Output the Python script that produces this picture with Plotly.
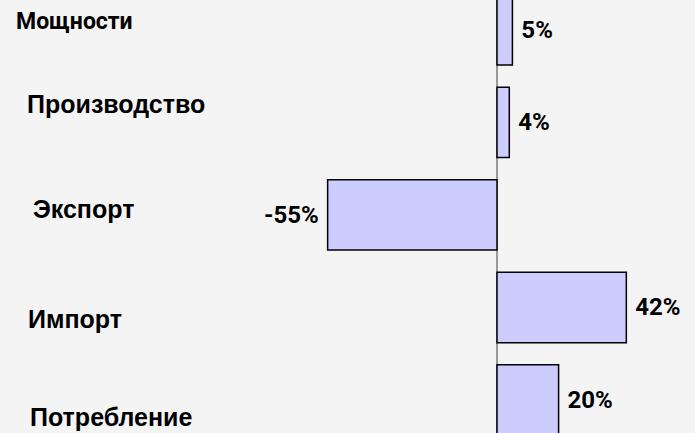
import plotly.graph_objects as go

categories = ["Мощности", "Производство", "Экспорт", "Импорт", "Потребление"]
values = [5, 4, -55, 42, 20]
positions = [4, 3, 2, 1, 0]
label_offsets = [0.09, 0.2, 0.07, -0.12, -0.18]        # vertical shift of category captions
label_x = [0.0201, 0.036, 0.0446, 0.0374, 0.0403]       # paper x of caption left edge
label_fonts = ["Roboto", "Liberation Sans", "Liberation Sans",
               "Liberation Sans", "Liberation Sans"]
label_sizes = [23, 25, 25, 25, 25]

BAR_FILL = "#ccccff"
BG = "#f4f4f4"

texts = [f" {v}%" if v >= 0 else f"{v}% " for v in values]

fig = go.Figure()
fig.add_trace(go.Bar(
    x=values, y=positions, orientation="h",
    marker=dict(color=BAR_FILL, line=dict(color="black", width=1.5)),
    text=texts, textposition="outside", cliponaxis=False,
    constraintext="none",
    textfont=dict(family="Roboto", size=24, color="black", weight="bold"),
    width=0.76, hoverinfo="skip",
))

for cat, p, off, lx, fam, sz in zip(categories, positions, label_offsets, label_x,
                                    label_fonts, label_sizes):
    fig.add_annotation(
        x=lx, xref="paper", xanchor="left",
        y=p + off, yref="y", yanchor="middle",
        text=cat, showarrow=False,
        font=dict(family=fam, size=sz, color="black", weight="bold"),
    )

fig.update_layout(
    width=695, height=433,
    margin=dict(l=0, r=0, t=0, b=0),
    paper_bgcolor=BG, plot_bgcolor=BG,
    showlegend=False,
    xaxis=dict(range=[-161.4, 64.3], showgrid=False, showticklabels=False,
               zeroline=True, zerolinecolor="#999999", zerolinewidth=1.5),
    yaxis=dict(range=[-0.357, 4.324], showgrid=False, showticklabels=False,
               zeroline=False),
)

fig.write_html("out.html")
